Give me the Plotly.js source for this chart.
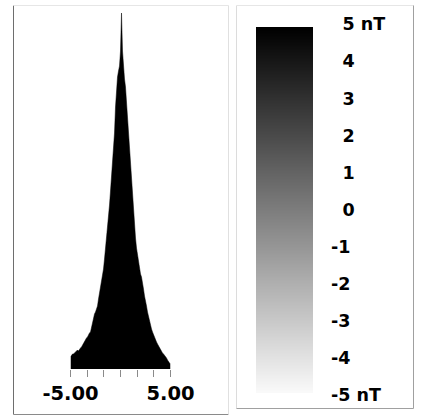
<!DOCTYPE html>
<html>
<head>
<meta charset="utf-8">
<script src="https://cdn.plot.ly/plotly-3.0.1.min.js"></script>
<style>html,body{margin:0;padding:0;background:#fff;}#chart{width:421px;height:416px;}</style>
</head>
<body>
<div id="chart"></div>
<script>
// Histogram of field values (nT), frequency polygon
const histX = [-5.0,-4.9,-4.8,-4.7,-4.6,-4.5,-4.4,-4.3,-4.2,-4.1,-4.0,-3.9,-3.8,-3.7,-3.6,-3.5,-3.4,-3.3,-3.2,-3.1,-3.0,-2.9,-2.8,-2.7,-2.6,-2.5,-2.4,-2.3,-2.2,-2.1,-2.0,-1.9,-1.8,-1.7,-1.6,-1.5,-1.4,-1.3,-1.2,-1.1,-1.0,-0.9,-0.8,-0.7,-0.6,-0.5,-0.4,-0.3,-0.2,-0.1,0.0,0.1,0.2,0.3,0.4,0.5,0.6,0.7,0.8,0.9,1.0,1.1,1.2,1.3,1.4,1.5,1.6,1.7,1.8,1.9,2.0,2.1,2.2,2.3,2.4,2.5,2.6,2.7,2.8,2.9,3.0,3.1,3.2,3.3,3.4,3.5,3.6,3.7,3.8,3.9,4.0,4.1,4.2,4.3,4.4,4.5,4.6,4.7,4.8,4.9,5.0];
const histCounts = [12,14,15,15,16,17,17,19,18,20,21,22,24,25,28,30,31,32,35,36,37,42,47,52,55,57,60,63,70,76,82,87,93,100,110,120,130,141,152,164,178,192,207,222,236,262,284,292,298,303,318,356,318,300,290,282,267,252,238,222,202,184,170,157,144,131,121,113,106,100,95,92,87,80,73,69,63,57,52,48,44,40,37,34,31,29,27,25,23,21,19,18,16,15,14,12,11,9,7,6,5];

// Histogram x-axis ticks
const histTickVals = [-5, -10/3, -5/3, 0, 5/3, 10/3, 5];
const histTickText = ['-5.00', '', '', '', '', '', '5.00'];

// Colour scale bar
const cbValues = [5, 4, 3, 2, 1, 0, -1, -2, -3, -4, -5];
const cbZ = [[5], [4], [3], [2], [1], [0], [-1], [-2], [-3], [-4], [-5]];
const cbLabels = ['5 nT', '4', '3', '2', '1', '0', '-1', '-2', '-3', '-4', '-5 nT'];

const negVals = cbValues.filter(v => v < 0);
const negText = cbLabels.filter((t, i) => cbValues[i] < 0);
const posVals = cbValues.filter(v => v >= 0);
const posText = cbLabels.filter((t, i) => cbValues[i] >= 0);

const W = 421, H = 416;
const px = v => v / W;
const py = v => (H - v) / H;

const traces = [
  {
    type: 'heatmap', x: [0], y: cbValues, z: cbZ,
    xaxis: 'x2', yaxis: 'y2', zsmooth: 'best', showscale: false,
    zmin: -5, zmax: 5,
    colorscale: [[0, 'rgb(250,250,250)'], [1, 'rgb(0,0,0)']],
    hoverinfo: 'skip'
  },
  {
    type: 'scatter', mode: 'lines', x: histX, y: histCounts,
    xaxis: 'x', yaxis: 'y', fill: 'tozeroy', fillcolor: '#000',
    line: {color: '#000', width: 0.5}, hoverinfo: 'skip'
  },
  // label axes for the scale bar (no marks, they only carry the tick labels)
  {type: 'scatter', mode: 'none', x: [], y: [], xaxis: 'x3', yaxis: 'y3', hoverinfo: 'skip'},
  {type: 'scatter', mode: 'none', x: [], y: [], xaxis: 'x4', yaxis: 'y4', hoverinfo: 'skip'}
];

const labelFont = {family: 'DejaVu Sans, Liberation Sans, Arial', size: 17.5, color: '#000', weight: 'bold'};

function line(x0, y0, x1, y1, color) {
  return {type: 'line', xref: 'paper', yref: 'paper', x0: px(x0), y0: py(y0), x1: px(x1), y1: py(y1),
          line: {color: color, width: 1}, layer: 'above'};
}

const layout = {
  width: W, height: H,
  margin: {l: 0, r: 0, t: 0, b: 0},
  paper_bgcolor: '#fff', plot_bgcolor: 'rgba(0,0,0,0)',
  showlegend: false,
  xaxis: {
    domain: [px(70.5), px(170.5)], range: [-5, 5], anchor: 'y',
    showgrid: false, zeroline: false, showline: false,
    ticks: 'outside', ticklen: 7, tickwidth: 1, tickcolor: '#8a8a8a',
    tickmode: 'array', tickvals: histTickVals, ticktext: histTickText,
    tickfont: {family: 'DejaVu Sans, Liberation Sans, Arial', size: 19.5, color: '#000', weight: 'bold'}
  },
  yaxis: {domain: [py(369), py(12)], range: [0, 357], anchor: 'x', visible: false},
  xaxis2: {domain: [px(256), px(313)], range: [-0.5, 0.5], anchor: 'y2', visible: false},
  yaxis2: {domain: [py(393), py(27)], range: [-5, 5], anchor: 'x2', visible: false},
  xaxis3: {domain: [px(300), px(330)], range: [0, 1], anchor: 'y3', visible: false},
  yaxis3: {
    domain: [py(395.2), py(24.2)], range: [-5, 5], anchor: 'x3', side: 'right',
    showgrid: false, zeroline: false, showline: false, ticks: '',
    tickmode: 'array', tickvals: negVals, ticktext: negText, tickfont: labelFont
  },
  xaxis4: {domain: [px(300), px(341.5)], range: [0, 1], anchor: 'y4', visible: false},
  yaxis4: {
    domain: [py(395.2), py(24.2)], range: [-5, 5], anchor: 'x4', side: 'right',
    showgrid: false, zeroline: false, showline: false, ticks: '',
    tickmode: 'array', tickvals: posVals, ticktext: posText, tickfont: labelFont
  },
  shapes: [
    // left panel frame
    line(13.5, 5.5, 13.5, 414.5, '#6e6e6e'),
    line(13.5, 414.5, 228.5, 414.5, '#8a8a8a'),
    line(13.5, 5.5, 228.5, 5.5, '#e6e6e6'),
    line(228.5, 5.5, 228.5, 414.5, '#e0e0e0'),
    // right panel frame
    line(236.5, 5.5, 236.5, 408.5, '#dcdcdc'),
    line(236.5, 5.5, 413.5, 5.5, '#e6e6e6'),
    line(413.5, 5.5, 413.5, 408.5, '#a0a0a0'),
    line(236.5, 408.5, 413.5, 408.5, '#a0a0a0')
  ]
};

Plotly.newPlot('chart', traces, layout, {staticPlot: true, displayModeBar: false});
</script>
</body>
</html>
